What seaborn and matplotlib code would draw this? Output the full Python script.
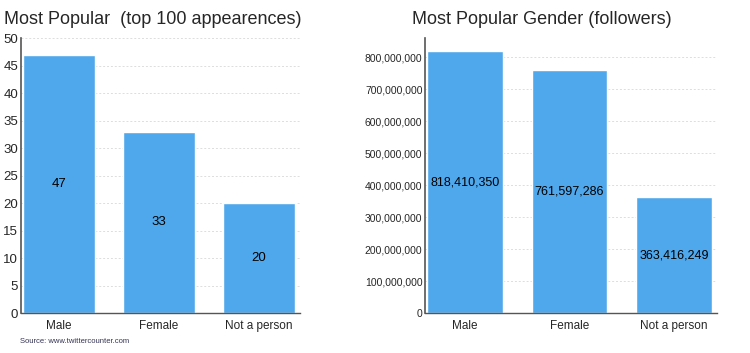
import seaborn as sns
import pandas as pd
import matplotlib.pyplot as plt
from matplotlib.ticker import MultipleLocator, FuncFormatter

# values
categories = ["Male", "Female", "Not a person"]
appearances = [47, 33, 20]
followers = [818410350, 761597286, 363416249]

bar_color = "#4FA8EC"

sns.set_theme(style="white")
plt.rcParams['font.family'] = ['Liberation Sans', 'DejaVu Sans']

fig = plt.figure(figsize=(7.5, 3.53), dpi=100)
ax1 = fig.add_axes([0.028, 0.113, 0.372, 0.779])
ax2 = fig.add_axes([0.567, 0.113, 0.389, 0.779])

df1 = pd.DataFrame({"cat": categories, "val": appearances})
df2 = pd.DataFrame({"cat": categories, "val": followers})

sns.barplot(data=df1, x="cat", y="val", color=bar_color, saturation=1, width=0.72, ax=ax1)
sns.barplot(data=df2, x="cat", y="val", color=bar_color, saturation=1, width=0.72, ax=ax2)

def style(ax, ysize):
    ax.set_xlabel("")
    ax.set_ylabel("")
    ax.set_xlim(-0.38, 2.41)
    for s in ["top", "right"]:
        ax.spines[s].set_visible(False)
    ax.spines["left"].set_color("#555555")
    ax.spines["bottom"].set_color("#555555")
    ax.spines["left"].set_linewidth(1.2)
    ax.spines["bottom"].set_linewidth(1.0)
    ax.spines["bottom"].set_linestyle((0, (1, 1)))
    ax.yaxis.grid(True, color="#dddddd", linestyle=(0, (2, 2)), linewidth=0.7)
    ax.set_axisbelow(True)
    ax.tick_params(axis="y", labelsize=ysize, pad=2, length=0)
    ax.tick_params(axis="x", labelsize=8.5, pad=5, length=0)

style(ax1, 9.5)
style(ax2, 7.5)

ax1.set_ylim(0, 50)
ax1.yaxis.set_major_locator(MultipleLocator(5))
ax2.set_ylim(0, 860e6)
ax2.yaxis.set_major_locator(MultipleLocator(100e6))
ax2.yaxis.set_major_formatter(FuncFormatter(lambda v, p: f"{int(v):,}"))

for i, v in enumerate(appearances):
    ax1.text(i, v / 2, str(v), ha="center", va="center", fontsize=9.5, color="black")
for i, v in enumerate(followers):
    ax2.text(i, v / 2, f"{v:,}", ha="center", va="center", fontsize=9, color="black")

fig.text(0.005, 0.944, "Most Popular  (top 100 appearences)", fontsize=13, ha="left", va="center")
fig.text(0.549, 0.944, "Most Popular Gender (followers)", fontsize=13, ha="left", va="center")
fig.text(0.027, 0.032, "Source: www.twittercounter.com", fontsize=5.5, color="#333355", ha="left", va="center")

plt.savefig("out.png", dpi=100)
